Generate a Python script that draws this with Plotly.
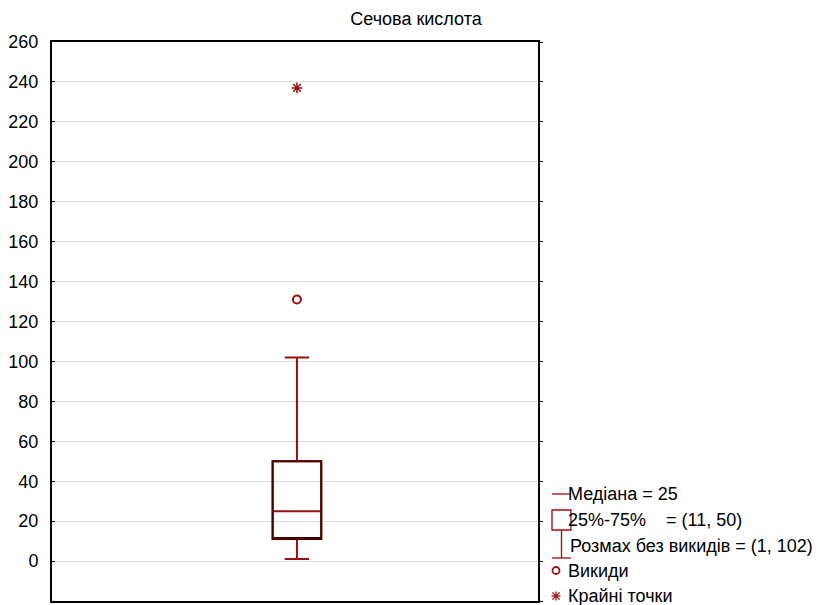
import plotly.graph_objects as go

# Summary statistics of the variable
title_text = "Сечова кислота"
median = [25]
q1 = [11]
q3 = [50]
whisker_low = [1]
whisker_high = [102]
outliers = [131]
extremes = [237]

y_ticks = list(range(-20, 261, 20))

RED = "#9c0d0d"
DARK = "#4a0000"
FONT = "Liberation Sans, Arial, sans-serif"

W, H = 821, 605
L, R, T, B = 52, 283, 42, 4
PW, PH = W - L - R, H - T - B


def px(x):
    return (x - L) / PW


def py(y):
    return (H - B - y) / PH


fig = go.Figure()

# whiskers + median (red)
fig.add_trace(go.Box(
    x=[0], q1=q1, median=median, q3=q3,
    lowerfence=whisker_low, upperfence=whisker_high,
    width=0.2, whiskerwidth=0.5,
    line=dict(color=RED, width=2), fillcolor="rgba(0,0,0,0)",
    boxpoints=False, showlegend=False, hoverinfo="skip",
))
# box outline (dark)
fig.add_trace(go.Box(
    x=[0], q1=q1, median=q1, q3=q3,
    lowerfence=q1, upperfence=q3,
    width=0.2, whiskerwidth=0,
    line=dict(color=DARK, width=2), fillcolor="rgba(0,0,0,0)",
    boxpoints=False, showlegend=False, hoverinfo="skip",
))
# outliers
fig.add_trace(go.Scatter(
    x=[0] * len(outliers), y=outliers, mode="markers",
    marker=dict(symbol="circle-open", size=8, color=RED, line=dict(width=2)),
    showlegend=False, hoverinfo="y",
))
# extreme points (on the mirrored right axis)
fig.add_trace(go.Scatter(
    x=[0] * len(extremes), y=extremes, mode="markers", yaxis="y2",
    marker=dict(symbol="asterisk-open", size=9, color=RED, line=dict(width=1.5)),
    showlegend=False, hoverinfo="y",
))

axis_font = dict(family=FONT, size=18, color="black")

fig.update_layout(
    width=W, height=H,
    margin=dict(l=L, r=R, t=T, b=B),
    paper_bgcolor="white", plot_bgcolor="white",
    boxmode="overlay",
    title=dict(text=title_text, x=416 / W, xanchor="center",
               y=1 - 19 / H, yanchor="middle",
               font=dict(family=FONT, size=18, color="black")),
    xaxis=dict(range=[-1.008, 0.992], showticklabels=False, ticks="",
               showgrid=False, zeroline=False,
               showline=True, linecolor="black", linewidth=2, mirror=True),
    yaxis=dict(range=[-20, 260], tickvals=y_ticks, ticks="inside", ticklen=3,
               tickcolor="black", showgrid=True, gridcolor="#dedede", gridwidth=1,
               zeroline=False, showline=True, linecolor="black", linewidth=2,
               tickfont=axis_font, ticklabelstandoff=8),
    yaxis2=dict(range=[-20, 260], tickvals=y_ticks, overlaying="y", side="right",
                ticks="outside", ticklen=3, tickcolor="black",
                showticklabels=False, showgrid=False, zeroline=False,
                showline=True, linecolor="black", linewidth=2),
)

# legend describing the box elements
leg_font = dict(family=FONT, size=18, color="black")
shapes = []
annots = []


def text(x, y, s):
    annots.append(dict(x=px(x), y=py(y), xref="paper", yref="paper", text=s,
                       showarrow=False, xanchor="left", yanchor="middle",
                       font=leg_font, xshift=-2))


def line(x0, y0, x1, y1, color=RED, width=1.3):
    shapes.append(dict(type="line", xref="paper", yref="paper",
                       x0=px(x0), y0=py(y0), x1=px(x1), y1=py(y1),
                       line=dict(color=color, width=width)))


line(552, 494, 570, 494)
text(568, 494, f"Медіана = {median[0]}")

shapes.append(dict(type="rect", xref="paper", yref="paper",
                   x0=px(552), y0=py(510), x1=px(571), y1=py(530),
                   line=dict(color=RED, width=1.3)))
text(568, 520, f"25%-75%&nbsp;&nbsp;&nbsp;&nbsp;= ({q1[0]}, {q3[0]})")

line(561.5, 531, 561.5, 558)
line(552, 558, 571, 558)
text(570, 546, f"Розмах без викидів = ({whisker_low[0]}, {whisker_high[0]})")

shapes.append(dict(type="circle", xref="paper", yref="paper",
                   x0=px(552.5), y0=py(567), x1=px(559.5), y1=py(574),
                   line=dict(color=RED, width=1.8)))
text(568, 571, "Викиди")

cx, cy, r = 556, 596, 4.5
line(cx - r, cy, cx + r, cy)
line(cx, cy - r, cx, cy + r)
line(cx - r * 0.8, cy - r * 0.8, cx + r * 0.8, cy + r * 0.8)
line(cx - r * 0.8, cy + r * 0.8, cx + r * 0.8, cy - r * 0.8)
text(568, 596, "Крайні точки")

fig.update_layout(shapes=shapes, annotations=annots)

fig.write_html("out.html")
